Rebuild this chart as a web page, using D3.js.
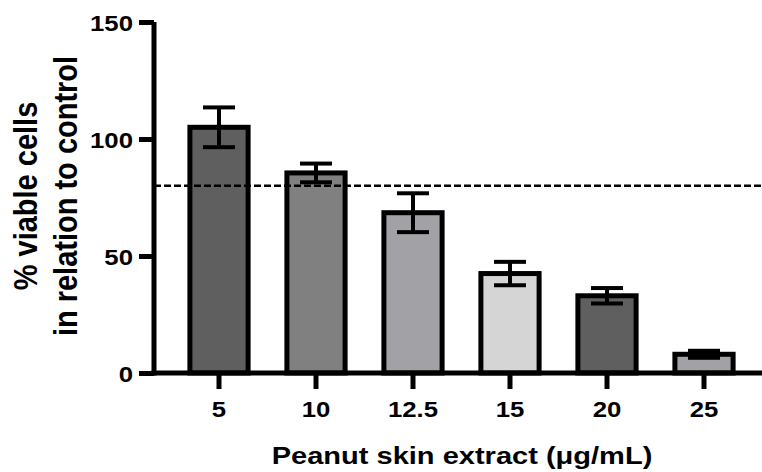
<!DOCTYPE html>
<html>
<head>
<meta charset="utf-8">
<script src="https://cdn.jsdelivr.net/npm/d3@7"></script>
<style>
  body { margin: 0; background: #fff; }
  text { font-family: "Liberation Sans", Arial, sans-serif; font-weight: bold; fill: #000; }
</style>
</head>
<body>
<div id="chart"></div>
<script>
// data
const concentrations = ["5", "10", "12.5", "15", "20", "25"];
const viability = [105, 85.5, 68.5, 42.5, 33, 8];
const errors = [8.5, 4, 8.3, 5, 3.3, 1.5];
const barColors = ["#5f5f5f", "#808080", "#a2a1a6", "#d5d5d5", "#5f5f5f", "#a2a1a6"];
const yTicks = [0, 50, 100, 150];
const threshold = 80;

const width = 762;
const height = 472;
const axisX = 154;
const sx = 1.17; // text in the picture is stretched sideways

const svg = d3.select("#chart")
    .append("svg")
    .attr("width", width)
    .attr("height", height);

const x = d3.scaleBand()
    .domain(concentrations)
    .range([170.5, 752.5])
    .paddingInner(0.4)
    .paddingOuter(0.2);

const y = d3.scaleLinear()
    .domain([0, 150])
    .range([373, 22]);

// bars
svg.selectAll(".bar")
    .data(concentrations)
    .enter().append("rect")
    .attr("class", "bar")
    .attr("x", d => x(d))
    .attr("width", x.bandwidth())
    .attr("y", (d, i) => y(viability[i]))
    .attr("height", (d, i) => y(0) - y(viability[i]))
    .attr("fill", (d, i) => barColors[i])
    .attr("stroke", "#000")
    .attr("stroke-width", 5);

// error bars
const errG = svg.selectAll(".err")
    .data(concentrations)
    .enter().append("g")
    .attr("class", "err")
    .attr("stroke", "#000")
    .attr("stroke-width", 4);

errG.append("line")
    .attr("x1", d => x(d) + x.bandwidth() / 2)
    .attr("x2", d => x(d) + x.bandwidth() / 2)
    .attr("y1", (d, i) => y(viability[i] + errors[i]))
    .attr("y2", (d, i) => y(viability[i] - errors[i]));

errG.append("line")
    .attr("x1", d => x(d) + x.bandwidth() / 2 - 16)
    .attr("x2", d => x(d) + x.bandwidth() / 2 + 16)
    .attr("y1", (d, i) => y(viability[i] + errors[i]))
    .attr("y2", (d, i) => y(viability[i] + errors[i]));

errG.append("line")
    .attr("x1", d => x(d) + x.bandwidth() / 2 - 16)
    .attr("x2", d => x(d) + x.bandwidth() / 2 + 16)
    .attr("y1", (d, i) => y(viability[i] - errors[i]))
    .attr("y2", (d, i) => y(viability[i] - errors[i]));

// dashed 80% line
svg.append("line")
    .attr("x1", axisX)
    .attr("x2", width)
    .attr("y1", y(threshold))
    .attr("y2", y(threshold))
    .attr("stroke", "#000")
    .attr("stroke-width", 2.5)
    .attr("stroke-dasharray", "7,3");

// y axis
const yAxis = svg.append("g")
    .attr("transform", `translate(${axisX},0)`)
    .call(d3.axisLeft(y).tickValues(yTicks).tickSize(15).tickSizeOuter(0));
yAxis.select(".domain").remove();
yAxis.selectAll(".tick line").attr("stroke", "#000").attr("stroke-width", 5);
yAxis.selectAll(".tick text").remove();
yAxis.selectAll(".tick").append("text")
    .attr("text-anchor", "end")
    .attr("transform", `translate(-21,8) scale(${sx},1)`)
    .style("font-size", "22px")
    .text(d => d);

svg.append("line")
    .attr("x1", axisX).attr("x2", axisX)
    .attr("y1", y(150)).attr("y2", y(0) + 2.5)
    .attr("stroke", "#000").attr("stroke-width", 5);

// x axis
const xAxis = svg.append("g")
    .attr("transform", `translate(0,${y(0)})`)
    .call(d3.axisBottom(x).tickSize(16).tickSizeOuter(0));
xAxis.select(".domain").remove();
xAxis.selectAll(".tick line").attr("stroke", "#000").attr("stroke-width", 5);
xAxis.selectAll(".tick text").remove();
xAxis.selectAll(".tick").append("text")
    .attr("text-anchor", "middle")
    .attr("transform", `translate(0,44) scale(${sx},1)`)
    .style("font-size", "22px")
    .text(d => d);

svg.append("line")
    .attr("x1", axisX - 2.5).attr("x2", width)
    .attr("y1", y(0)).attr("y2", y(0))
    .attr("stroke", "#000").attr("stroke-width", 5);

// axis titles
svg.append("text")
    .attr("text-anchor", "middle")
    .attr("transform", `translate(462,464) scale(1.21,1)`)
    .style("font-size", "24px")
    .text("Peanut skin extract (μg/mL)");

const yTitle = svg.append("text")
    .attr("text-anchor", "middle")
    .attr("transform", `translate(37,196) rotate(-90) scale(1,${sx})`)
    .style("font-size", "29px");
yTitle.append("tspan").attr("x", 0).attr("y", 0).text("% viable cells");
yTitle.append("tspan").attr("x", 0).attr("y", 34).text("in relation to control");
</script>
</body>
</html>
